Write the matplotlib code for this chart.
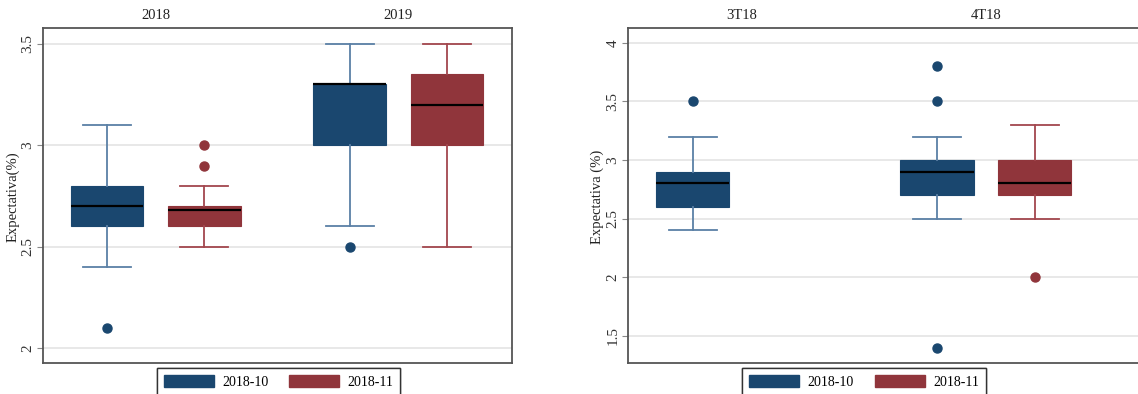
import matplotlib
matplotlib.use("Agg")
import matplotlib.pyplot as plt
from matplotlib.patches import Patch
from matplotlib.ticker import FormatStrFormatter
import matplotlib.transforms as mtransforms

plt.rcParams['font.family'] = ['Liberation Serif', 'DejaVu Serif']

# summary stats per box: [whisker low, q1, median, q3, whisker high]
anual_groups = ['2018', '2019']
anual_oct = [[2.4, 2.6, 2.7, 2.8, 3.1], [2.6, 3.0, 3.3, 3.3, 3.5]]
anual_oct_out = [[2.1], [2.5]]
anual_nov = [[2.5, 2.6, 2.68, 2.7, 2.8], [2.5, 3.0, 3.2, 3.35, 3.5]]
anual_nov_out = [[3.0, 2.9], []]

trim_groups = ['3T18', '4T18']
trim_oct = [[2.4, 2.6, 2.8, 2.9, 3.2], [2.5, 2.7, 2.9, 3.0, 3.2]]
trim_oct_out = [[3.5], [3.8, 3.5, 1.4]]
trim_nov = [None, [2.5, 2.7, 2.8, 3.0, 3.3]]
trim_nov_out = [None, [2.0]]

series_names = ['2018-10', '2018-11']
fill_colors = ['#1a476f', '#90353b']
whisk_colors = ['#5b80a6', '#a3474e']

group_pos = [1.5, 4.0]
offset = 0.5
W, H = 1138, 394


def make_stats(q, out):
    return dict(whislo=q[0], q1=q[1], med=q[2], q3=q[3], whishi=q[4], fliers=out)


def draw_panel(ax, groups, oct_q, oct_out, nov_q, nov_out, ylim, yticks, ylabel):
    for s, (qs, outs) in enumerate([(oct_q, oct_out), (nov_q, nov_out)]):
        stats, pos = [], []
        for g, (q, out) in enumerate(zip(qs, outs)):
            if q is None:
                continue
            stats.append(make_stats(q, out))
            pos.append(group_pos[g] + (s - 0.5) * 2 * offset)
        ax.bxp(stats, positions=pos, widths=0.75, capwidths=0.49,
               patch_artist=True, showfliers=True,
               boxprops=dict(facecolor=fill_colors[s], edgecolor=fill_colors[s], linewidth=0.8),
               medianprops=dict(color='black', linewidth=1.6),
               whiskerprops=dict(color=whisk_colors[s], linewidth=1.3),
               capprops=dict(color=whisk_colors[s], linewidth=1.3),
               flierprops=dict(marker='o', markersize=6.5, markerfacecolor=fill_colors[s],
                               markeredgecolor=fill_colors[s]),
               zorder=3)
    trans = mtransforms.blended_transform_factory(ax.transData, ax.transAxes)
    for g, name in enumerate(groups):
        ax.text(group_pos[g], 1.0 + 12.6 / 334.4, name, transform=trans,
                ha='center', va='center', fontsize=10.5, color='#222222')
    ax.set_ylim(*ylim)
    ax.set_yticks(yticks)
    ax.yaxis.set_major_formatter(FormatStrFormatter('%g'))
    ax.set_xticks([])
    ax.grid(axis='y', color='#e4e4e4', linewidth=1.2, zorder=0)
    ax.set_axisbelow(True)
    ax.tick_params(axis='y', length=4, width=0.8, color='#888888', labelsize=11,
                   labelcolor='#333333', pad=2)
    plt.setp(ax.get_yticklabels(), rotation=90, va='center')
    for sp in ax.spines.values():
        sp.set_color('#555555')
        sp.set_linewidth(1.3)
    ax.set_ylabel(ylabel, fontsize=10.5, color='#222222')


fig = plt.figure(figsize=(W / 100, H / 100), dpi=100)
ax1 = fig.add_axes([42.7 / W, 31.3 / H, 469 / W, 334.4 / H])
ax2 = fig.add_axes([627.7 / W, 31.3 / H, 525 / W, 334.4 / H])

draw_panel(ax1, anual_groups, anual_oct, anual_oct_out, anual_nov, anual_nov_out,
           (1.929, 3.576), [2, 2.5, 3, 3.5], 'Expectativa(%)')
ax1.set_xlim(0.337, 5.167)
ax1.yaxis.set_label_coords(19.5 / W, 0.5, transform=fig.transFigure)

draw_panel(ax2, trim_groups, trim_oct, trim_oct_out, trim_nov, trim_nov_out,
           (1.272, 4.123), [1.5, 2, 2.5, 3, 3.5, 4], 'Expectativa (%)')
ax2.set_xlim(0.335, 0.335 + 525 / 97.7)
ax2.yaxis.set_label_coords(603.5 / W, 0.5, transform=fig.transFigure)

handles = [Patch(facecolor=c, edgecolor=c) for c in fill_colors]
for x0 in [156.7, 742.3]:
    leg = fig.legend(handles, series_names, loc='upper left', ncol=2,
                     bbox_to_anchor=(x0 / W, 1 - 368 / H), borderaxespad=0,
                     fontsize=10, handlelength=3.6, handleheight=1.0,
                     handletextpad=0.6, columnspacing=1.5, borderpad=0.5,
                     fancybox=False, framealpha=1)
    leg.get_frame().set_edgecolor('#333333')
    leg.get_frame().set_linewidth(1.0)
    fig.add_artist(leg)

fig.savefig('out.png', dpi=100)
